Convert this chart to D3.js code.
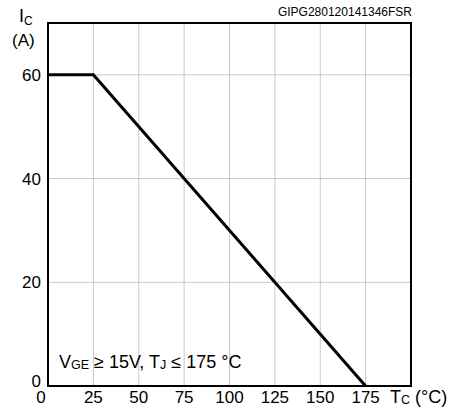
<!DOCTYPE html>
<html><head><meta charset="utf-8">
<script src="https://cdn.jsdelivr.net/npm/d3@7"></script>
<style>body{margin:0;background:#fff}text{font-family:Arial,"Liberation Sans",sans-serif;fill:#000}</style>
</head><body>
<script>
const tcValues = [0, 25, 175];
const icValues = [60, 60, 0];
const xTicks = [0, 25, 50, 75, 100, 125, 150, 175];
const yTicks = [0, 20, 40, 60];
const xGrid = [25, 50, 75, 100, 125, 150, 175];
const yGrid = [20, 40, 60];

const W = 457, H = 411;
const m = {left: 48, right: 46, top: 23, bottom: 25};
const svg = d3.select("body").append("svg").attr("width", W).attr("height", H);
const x = d3.scaleLinear().domain([0, 200]).range([m.left, W - m.right]);
const y = d3.scaleLinear().domain([0, 70]).range([H - m.bottom, m.top]);

// grid
svg.append("g").selectAll("line").data(xGrid).join("line")
  .attr("x1", d => x(d)).attr("x2", d => x(d)).attr("y1", y(0)).attr("y2", y(70))
  .attr("stroke", "#c8c8c8").attr("stroke-width", 1);
svg.append("g").selectAll("line").data(yGrid).join("line")
  .attr("y1", d => y(d)).attr("y2", d => y(d)).attr("x1", x(0)).attr("x2", x(200))
  .attr("stroke", "#c8c8c8").attr("stroke-width", 1);

// frame
svg.append("rect").attr("x", x(0)).attr("y", y(70)).attr("width", x(200) - x(0)).attr("height", y(0) - y(70))
  .attr("fill", "none").attr("stroke", "#000").attr("stroke-width", 2);

// data line
const pts = tcValues.map((t, i) => [t, icValues[i]]);
svg.append("path").datum(pts)
  .attr("d", d3.line().x(d => x(d[0])).y(d => y(d[1])))
  .attr("fill", "none").attr("stroke", "#000").attr("stroke-width", 3);

// x tick labels
svg.append("g").selectAll("text").data(xTicks).join("text")
  .attr("x", d => d === 0 ? x(d) - 7 : x(d)).attr("y", y(0) + 17)
  .attr("text-anchor", "middle").attr("font-size", 17).text(d => d);
// y tick labels
svg.append("g").selectAll("text").data(yTicks).join("text")
  .attr("x", x(0) - 7).attr("y", d => d === 0 ? y(d) + 1 : y(d) + 6)
  .attr("text-anchor", "end").attr("font-size", 17).text(d => d);

// axis titles
const ic = svg.append("text").attr("x", 19).attr("y", 22).attr("font-size", 18);
ic.append("tspan").text("I");
ic.append("tspan").attr("font-size", 12).attr("dy", 3).text("C");
svg.append("text").attr("x", 12).attr("y", 46).attr("font-size", 17).text("(A)");

const tc = svg.append("text").attr("x", 390).attr("y", y(0) + 17).attr("font-size", 18);
tc.append("tspan").text("T");
tc.append("tspan").attr("font-size", 12.5).attr("dy", 1).text("C");
tc.append("tspan").attr("dy", -1).text(" (°C)");

svg.append("text").attr("x", 412).attr("y", 16).attr("text-anchor", "end")
  .attr("font-size", 12).text("GIPG280120141346FSR");

// annotation
const an = svg.append("text").attr("x", 59).attr("y", 368).attr("font-size", 18);
an.append("tspan").text("V");
an.append("tspan").attr("font-size", 12.5).attr("dy", 1).text("GE");
an.append("tspan").attr("dy", -1).text(" ≥ 15V, T");
an.append("tspan").attr("font-size", 12.5).attr("dy", 1).text("J");
an.append("tspan").attr("dy", -1).text(" ≤ 175 °C");
</script>
</body></html>
